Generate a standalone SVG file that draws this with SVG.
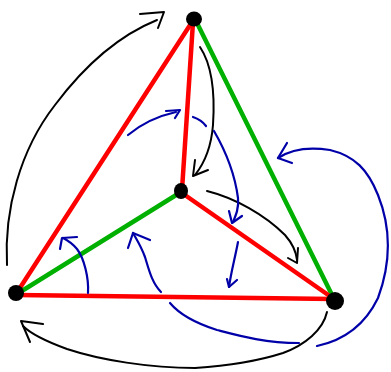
<svg xmlns="http://www.w3.org/2000/svg" width="391" height="372" viewBox="0 0 391 372">
<style>
.edge{fill:none;stroke-width:4.5;stroke-linecap:round}
.red{stroke:#ff0000}
.green{stroke:#00b000}
.blk{fill:none;stroke:#000;stroke-width:2;stroke-linecap:round;stroke-linejoin:round}
.blu{fill:none;stroke:#0000a8;stroke-width:2.2;stroke-linecap:round;stroke-linejoin:round}
.dot{fill:#000}
</style>
<rect width="391" height="372" fill="#fff"/>
<g id="edges">
<line class="edge red" x1="192" y1="22" x2="16" y2="294"/>
<line class="edge red" x1="193" y1="22" x2="182" y2="190"/>
<line class="edge green" x1="196" y1="21" x2="334" y2="299"/>
<line class="edge green" x1="181" y1="192" x2="17" y2="294"/>
<line class="edge red" x1="182" y1="193" x2="334" y2="299"/>
<line class="edge red" x1="17" y1="295" x2="334" y2="299"/>
</g>
<g id="connectors">
<path class="blk" d="M7,265 C4,210 20,150 55,105 C85,65 120,35 157,20"/>
<path class="blk" d="M140,14 L164,12 L158,28"/>
<path class="blk" d="M200,47 C212,65 215,95 213,125 C211,150 203,165 195,175"/>
<path class="blk" d="M195,160 L193,176 L208,170"/>
<path class="blk" d="M207,191 C235,198 265,215 285,235 C292,243 296,250 297,260"/>
<path class="blk" d="M288,258 L297,263 L298,248"/>
<path class="blk" d="M327,312 C323,330 305,345 283,353 C255,362 225,366 195,368 C150,368 100,360 67,349 C45,341 30,333 23,326"/>
<path class="blk" d="M43,324 L21,321 L30,342"/>
<path class="blu" d="M128,135 C140,125 158,116 176,112"/>
<path class="blu" d="M166,111 L180,110 L175,118"/>
<path class="blu" d="M193,117 C199,119 203,122 206,126"/>
<path class="blu" d="M214,131 C225,150 235,175 238,198 C239,208 236,215 233,222"/>
<path class="blu" d="M229,211 L232,223 L242,216"/>
<path class="blu" d="M238,242 C235,258 231,272 229,287"/>
<path class="blu" d="M227,279 L229,287 L237,280"/>
<path class="blu" d="M88,293 C89,278 84,258 77,249 C72,243 67,240 63,238"/>
<path class="blu" d="M60,249 L62,238 L77,237"/>
<path class="blu" d="M161,292 C152,283 149,270 145,257 C141,246 137,240 133,233"/>
<path class="blu" d="M128,248 L133,233 L150,240"/>
<path class="blu" d="M170,303 C180,315 195,323 217,330 C240,336 265,343 299,343"/>
<path class="blu" d="M278,158 C290,150 305,146 330,150 C355,156 368,170 378,195 C390,225 392,260 378,298 C365,325 345,340 317,346"/>
<path class="blu" d="M287,143 L278,158 L292,163"/>
</g>
<g id="nodeT"><ellipse class="dot" cx="194" cy="19" rx="8" ry="7.5"/></g>
<g id="nodeC"><ellipse class="dot" cx="181" cy="191" rx="7" ry="8"/></g>
<g id="nodeL"><ellipse class="dot" cx="16" cy="293" rx="8" ry="8"/></g>
<g id="nodeR"><ellipse class="dot" cx="335" cy="301" rx="9" ry="9"/></g>
</svg>
